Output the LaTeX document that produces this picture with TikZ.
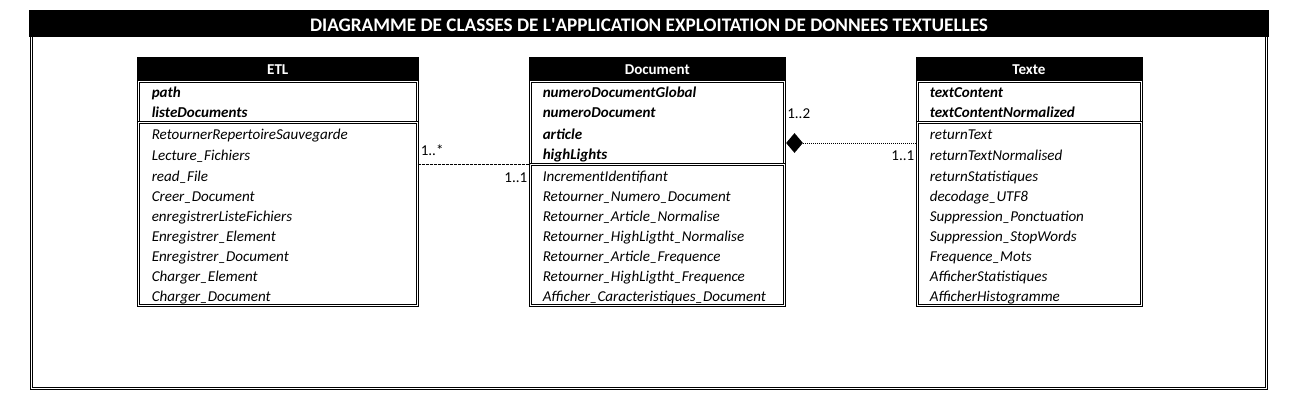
\documentclass[tikz,border=0pt]{standalone}
\usepackage{fontspec}
\setmainfont{Carlito}
\usetikzlibrary{fit,shapes.geometric}
\begin{document}
\begin{tikzpicture}[x=0.75pt,y=-0.75pt,
 dbl/.style={draw,double,double distance=0.75pt,line width=0.75pt,inner sep=0},
 bar/.style={fill=black,draw=none,inner sep=0},
 cls/.style={text=white,font=\fontsize{11.3}{13}\selectfont\bfseries,inner sep=0},
 attr/.style={anchor=base west,inner sep=0,font=\fontsize{11.3}{13}\selectfont\bfseries\itshape},
 meth/.style={anchor=base west,inner sep=0,font=\fontsize{11.3}{13}\selectfont\itshape},
 mult/.style={inner sep=0,font=\fontsize{11.3}{13}\selectfont},
 dashline/.style={line width=0.75pt,dash pattern=on 2.25pt off 0.75pt},
 dotline/.style={line width=0.75pt,dash pattern=on 0.75pt off 0.75pt}]
\useasboundingbox (0,0) rectangle (1291,410);
% frame
\node[dbl,fit={(31,30)(1266.5,388)}] (frame) {};
\node[bar,fit={(29,10)(1269,37)}] (tbar) {};
\node[text=white,inner sep=0,font=\fontsize{14.4}{16}\selectfont\bfseries] (ttl) at ([yshift=-1.5pt]tbar.center) {DIAGRAMME DE CLASSES DE L\textquotesingle APPLICATION EXPLOITATION DE DONNEES TEXTUELLES};
% ETL
\node[bar,fit={(137,57)(418.5,80)}] (etlt) {};
\node[cls] (etln) at ([yshift=-1pt]etlt.center) {ETL};
\node[dbl,fit={(138.5,81.5)(417,122)}] (etla) {};
\node[dbl,fit={(138.5,122)(417,305.5)}] (etlm) {};
\node[attr] (etla1) at (151.5,97.5) {path};
\node[attr] (etla2) at (151.5,117.5) {listeDocuments};
\foreach \t/\yy [count=\i] in {RetournerRepertoireSauvegarde/139,Lecture\_Fichiers/160,read\_File/181,Creer\_Document/201.5,enregistrerListeFichiers/221.5,Enregistrer\_Element/241.5,Enregistrer\_Document/261.5,Charger\_Element/281.5,Charger\_Document/301.5}
  \node[meth] (etlm\i) at (151.5,\yy) {\t};
% Document
\node[bar,fit={(528.5,57)(786,80)}] (doct) {};
\node[cls] (docn) at ([yshift=-1pt]doct.center) {Document};
\node[dbl,fit={(530,81.5)(784.5,164)}] (doca) {};
\node[dbl,fit={(530,164)(784.5,305.5)}] (docm) {};
\foreach \t/\yy [count=\i] in {numeroDocumentGlobal/97.5,numeroDocument/117.5,article/139,highLights/159.5}
  \node[attr] (doca\i) at (542.5,\yy) {\t};
\foreach \t/\yy [count=\i] in {IncrementIdentifiant/181,Retourner\_Numero\_Document/201.5,Retourner\_Article\_Normalise/221.5,Retourner\_HighLigtht\_Normalise/241.5,Retourner\_Article\_Frequence/261.5,Retourner\_HighLigtht\_Frequence/281.5,Afficher\_Caracteristiques\_Document/301.5}
  \node[meth] (docm\i) at (542.5,\yy) {\t};
% Texte
\node[bar,fit={(915.5,57)(1142.5,80)}] (text) {};
\node[cls] (texn) at ([yshift=-1pt]text.center) {Texte};
\node[dbl,fit={(917,81.5)(1141,122)}] (texa) {};
\node[dbl,fit={(917,122)(1141,305)}] (texm) {};
\node[attr] (texa1) at (929.5,97.5) {textContent};
\node[attr] (texa2) at (929.5,117.5) {textContentNormalized};
\foreach \t/\yy [count=\i] in {returnText/139,returnTextNormalised/160,returnStatistiques/181,decodage\_UTF8/201.5,Suppression\_Ponctuation/221.5,Suppression\_StopWords/241.5,Frequence\_Mots/261.5,AfficherStatistiques/281.5,AfficherHistogramme/301.5}
  \node[meth] (texm\i) at (929.5,\yy) {\t};
% connectors
\coordinate (y1) at (0,164.5);
\draw[dashline] (etlm.east |- y1) -- (doca.west |- y1);
\node[mult,anchor=base west] (m1) at (420.5,155) {1..*};
\node[mult,anchor=base east] (m2) at (527.5,182) {1..1};
\node[diamond,fill=black,inner sep=0,minimum width=12.75pt,minimum height=15pt] (dia) at (794.5,143) {};
\draw[dotline] (dia.east) -- (texa.west |- dia.east);
\node[mult,anchor=base west] (m3) at (787,118) {1..2};
\node[mult,anchor=base east] (m4) at (914.5,160) {1..1};
\end{tikzpicture}
\end{document}
